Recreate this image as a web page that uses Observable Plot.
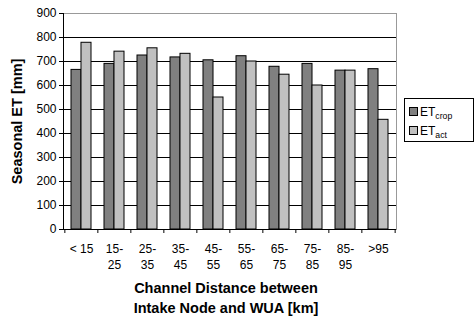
<!DOCTYPE html>
<html>
<head>
<meta charset="utf-8">
<script src="https://cdn.jsdelivr.net/npm/d3@7"></script>
<script src="https://cdn.jsdelivr.net/npm/@observablehq/plot@0.6"></script>
<style>
  html, body { margin: 0; padding: 0; background: #fff; }
  #wrap { position: relative; width: 474px; height: 316px; font-family: "Liberation Sans", Arial, sans-serif; }
  #legend { position: absolute; left: 404px; top: 98px; width: 70px; height: 44px; border: 1px solid #000; box-sizing: border-box; background: #fff; font-size: 12px; color: #000; }
  .item { position: absolute; left: 4px; height: 16px; line-height: 16px; white-space: nowrap; }
  .sw { display: inline-block; width: 7px; height: 7px; border: 1px solid #000; vertical-align: middle; margin-right: 2px; position: relative; top: -1px; }
  sub { font-size: 8.7px; vertical-align: -3px; line-height: 0; }
</style>
</head>
<body>
<div id="wrap"></div>
<script>
const categories = ["< 15", "15-25", "25-35", "35-45", "45-55", "55-65", "65-75", "75-85", "85-95", ">95"];
const tickLabels = ["< 15", "15-\n25", "25-\n35", "35-\n45", "45-\n55", "55-\n65", "65-\n75", "75-\n85", "85-\n95", ">95"];
const etCrop = [665, 690, 725, 717, 705, 722, 678, 690, 662, 668];
const etAct = [778, 741, 755, 732, 550, 700, 645, 600, 662, 457];
const yTicks = [0, 100, 200, 300, 400, 500, 600, 700, 800, 900];
const seriesNames = ["crop", "act"];
const seriesColors = ["#808080", "#c0c0c0"];

const cropData = categories.map((c, i) => ({cat: c, v: etCrop[i]}));
const actData = categories.map((c, i) => ({cat: c, v: etAct[i]}));
const labelOf = new Map(categories.map((c, i) => [c, tickLabels[i]]));

const W = 474, H = 316, mL = 63, mR = 78, mT = 13, mB = 87;
const n = categories.length;
const step = (W - mL - mR) / (n - 0.4 + 0.4);
const bw = step * 0.6;
const half = step / 2;

const chart = Plot.plot({
  width: W,
  height: H,
  marginLeft: mL,
  marginRight: mR,
  marginTop: mT,
  marginBottom: mB,
  style: {fontFamily: "'Liberation Sans', Arial, sans-serif", fontSize: "12px", color: "#000", background: "#fff"},
  x: {domain: categories, paddingInner: 0.4, paddingOuter: 0.2, label: null},
  y: {domain: [0, 900], label: null},
  marks: [
    Plot.frame({stroke: "#999"}),
    Plot.ruleY(yTicks.filter(t => t < 900), {stroke: "#000", strokeWidth: 1}),
    Plot.barY(cropData, {x: "cat", y: "v", fill: seriesColors[0], stroke: "#000", strokeWidth: 1, insetRight: bw / 2}),
    Plot.barY(actData, {x: "cat", y: "v", fill: seriesColors[1], stroke: "#000", strokeWidth: 1, insetLeft: bw / 2}),
    Plot.ruleY([0], {stroke: "#000"}),
    Plot.frame({anchor: "left", stroke: "#000"}),
    Plot.axisY(yTicks, {tickSize: 4, tickPadding: 3, fontSize: 12, label: null, stroke: "#000"}),
    Plot.ruleX(categories, {x: d => d, dx: -half, insetTop: H - mT - mB, insetBottom: -4, stroke: "#000"}),
    Plot.ruleX([categories[n - 1]], {x: d => d, dx: half, insetTop: H - mT - mB, insetBottom: -4, stroke: "#000"}),
    Plot.axisX({tickSize: 0, tickPadding: 12, fontSize: 12, lineHeight: 1.35, tickFormat: d => labelOf.get(d), label: null}),
    Plot.text(["Channel Distance between\nIntake Node and WUA [km]"], {
      frameAnchor: "bottom", dy: 67, dx: -4, lineAnchor: "middle", lineHeight: 1.35,
      fontWeight: "bold", fontSize: 14.5, fill: "#000"
    }),
    Plot.text(["Seasonal ET [mm]"], {
      frameAnchor: "left", dx: -46, rotate: -90, textAnchor: "middle", lineAnchor: "middle", fontWeight: "bold", fontSize: 14.5, fill: "#000"
    })
  ]
});

const wrap = document.getElementById("wrap");
wrap.appendChild(chart);

const legend = document.createElement("div");
legend.id = "legend";
seriesNames.forEach((s, i) => {
  const item = document.createElement("div");
  item.className = "item";
  item.style.top = (i === 0 ? 5 : 24) + "px";
  item.innerHTML = `<span class="sw" style="background:${seriesColors[i]}"></span>ET<sub>${s}</sub>`;
  legend.appendChild(item);
});
wrap.appendChild(legend);
</script>
</body>
</html>
